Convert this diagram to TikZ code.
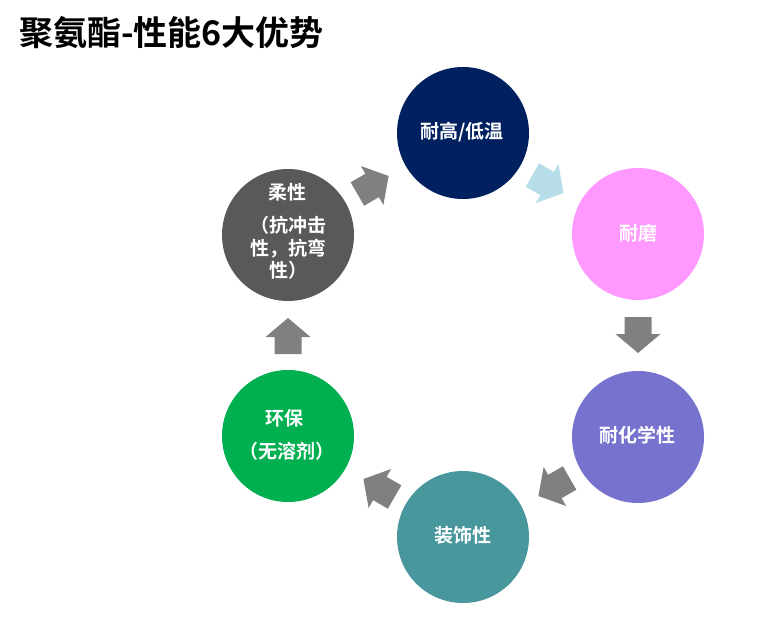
\documentclass[tikz,border=0pt]{standalone}
\usepackage{fontspec}
\setmainfont{Noto Sans CJK SC}[BoldFont={* Bold}]
\newfontfamily\cjkb{Noto Sans CJK SC Bold}
\definecolor{cnavy}{HTML}{002060}
\definecolor{cpink}{HTML}{FF99FF}
\definecolor{cpurple}{HTML}{7672CE}
\definecolor{cteal}{HTML}{47979D}
\definecolor{cgreen}{HTML}{00B050}
\definecolor{cgray}{HTML}{595959}
\definecolor{agray}{HTML}{808080}
\definecolor{ablue}{HTML}{B7DEE8}
\tikzset{
  disc/.style={circle, minimum size=132pt, inner sep=0pt, draw=none},
  lbl/.style={text=white, font=\cjkb\fontsize{19}{22.5}\selectfont, inner sep=0pt, align=center},
  blockarrow/.pic={\fill (-18,-13.5) -- (-1,-13.5) -- (-1,-22.5) -- (18,0) -- (-1,22.5) -- (-1,13.5) -- (-18,13.5) -- cycle;}
}
\begin{document}
\begin{tikzpicture}[x=1pt,y=-1pt]
\useasboundingbox (0,0) rectangle (757,623);
\fill[white] (0,0) rectangle (757,623);
\node[anchor=west, inner sep=0pt, font=\cjkb\fontsize{34}{38}\selectfont] (title) at (19,33) {聚氨酯-性能6大优势};
% circles
\node[disc, fill=cnavy] (c1) at (463,133) {};
\node[disc, fill=cpink] (c2) at (638,234) {};
\node[disc, fill=cpurple] (c3) at (638,437) {};
\node[disc, fill=cteal] (c4) at (463,537) {};
\node[disc, fill=cgreen] (c5) at (288,436) {};
\node[disc, fill=cgray] (c6) at (288,235) {};
% labels
\node[lbl] (t1) at (462,132) {耐高/低温};
\node[lbl] (t2) at (638,233) {耐磨};
\node[lbl] (t3) at (637,435) {耐化学性};
\node[lbl] (t4) at (463,535) {装饰性};
\node[lbl] (t5a) at (284,418) {环保};
\node[lbl] (t5b) at (287,451) {（无溶剂）};
\node[lbl] (t6a) at (287,192) {柔性};
\node[lbl, anchor=north] (t6b) at (288,216) {（抗冲击\\性，抗弯\\性）};
% arrows
\pic[agray, rotate=30] (a61) at (373,185) {blockarrow};
\pic[ablue, rotate=-30] (a12) at (548,184) {blockarrow};
\pic[agray, rotate=-90] (a23) at (638,335) {blockarrow};
\pic[agray, rotate=-150] (a34) at (554,487) {blockarrow};
\pic[agray, rotate=150] (a45) at (379,488) {blockarrow};
\pic[agray, rotate=90] (a56) at (288,336) {blockarrow};
\end{tikzpicture}
\end{document}
